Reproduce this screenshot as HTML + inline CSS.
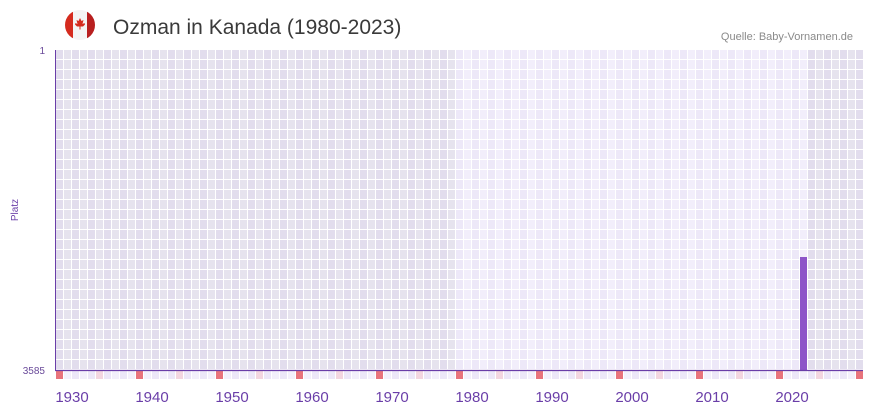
<!DOCTYPE html>
<html><head><meta charset="utf-8"><style>
html,body{margin:0;padding:0;background:#fff;width:873px;height:412px;overflow:hidden;font-family:"Liberation Sans",sans-serif}
</style></head><body>
<svg id="s" width="873" height="412" xmlns="http://www.w3.org/2000/svg">
<defs><clipPath id="c"><circle cx="80" cy="25" r="15"/></clipPath></defs>
<g clip-path="url(#c)">
<rect x="65" y="10" width="30" height="30" fill="#f4f4f4"/>
<rect x="65" y="10" width="8" height="30" fill="#d52b1e"/>
<rect x="87" y="10" width="8" height="30" fill="#b81f1f"/>
<path d="M80 18 l1.5 3 2-1 -1 4 2-1 0.5 1.5 -2 2 h-2.5 v3 h-1 v-3 h-2.5 l-2-2 0.5-1.5 2 1 -1-4 2 1z" fill="#d52b1e"/>
</g>
<text x="113" y="34" font-size="21" fill="#3a3a3a">Ozman in Kanada (1980-2023)</text>
<text x="853" y="40" font-size="11" fill="#8a8a8a" text-anchor="end">Quelle: Baby-Vornamen.de</text>
<g id="grid"></g>
<rect x="800" y="257" width="7" height="113" fill="#8d55c8"/>
<line x1="55.5" y1="50" x2="55.5" y2="371" stroke="#6a3ea8" stroke-width="1"/>
<line x1="55" y1="370.5" x2="863" y2="370.5" stroke="#6a3ea8" stroke-width="1.2"/>
<text x="45" y="54" font-size="10" fill="#6a4a9a" text-anchor="end">1</text>
<text x="45" y="374" font-size="10" fill="#6a4a9a" text-anchor="end">3585</text>
<text x="18" y="210" font-size="10" fill="#6a3ea8" text-anchor="middle" transform="rotate(-90 18 210)">Platz</text>
<g id="lab" font-size="15" fill="#6a3ea8" text-anchor="middle"></g>
</svg>
<script>
var g=document.getElementById('grid'),h='';
for(var i=0;i<101;i++){var x=56+i*8,yr=1928+i;var light=(x>=456&&x<808);
var c=light?(i%2?'#f2eefb':'#ede8f8'):(i%2?'#e6e3ee':'#e2dded');
for(var j=0;j<32;j++){h+='<rect x="'+x+'" y="'+(50+j*10)+'" width="7" height="9" fill="'+c+'"/>';}
var b=(yr%10==8)?'#e8737c':(yr%10==3)?'#f3d6e0':(i%2?'#f3f0fb':'#ece7f8');
h+='<rect x="'+x+'" y="371" width="7" height="8" fill="'+b+'"/>';}
g.innerHTML=h;
var l='';for(var y=1930;y<=2020;y+=10){l+='<text x="'+(56+(y-1928)*8)+'" y="402">'+y+'</text>';}
document.getElementById('lab').innerHTML=l;
</script>
</body></html>
